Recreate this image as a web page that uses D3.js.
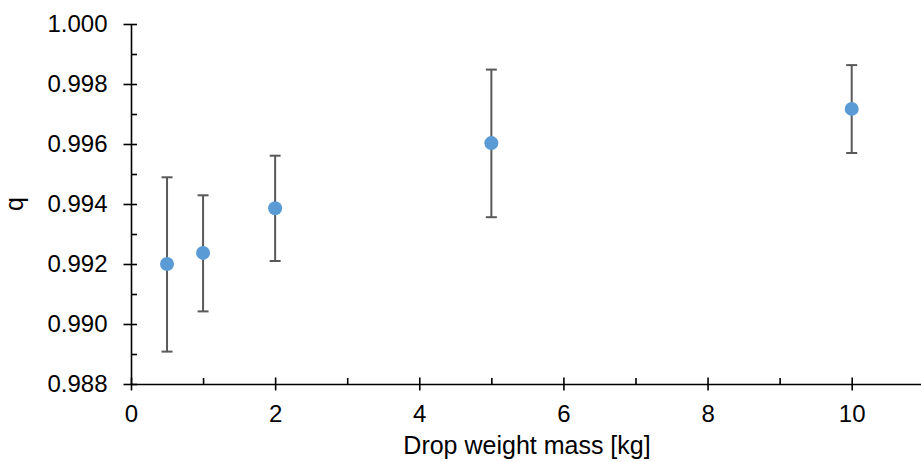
<!DOCTYPE html>
<html>
<head>
<meta charset="utf-8">
<script src="https://cdn.jsdelivr.net/npm/d3@7"></script>
<style>
  body { margin: 0; background: #fff; }
  svg { display: block; font-family: "Liberation Sans", Arial, sans-serif; }
  .domain { stroke: #000; stroke-width: 1.6px; }
  .tick line { stroke: #000; stroke-width: 1.6px; }
  .tick text { font-size: 24px; fill: #000; }
</style>
</head>
<body>
<svg id="chart" width="921" height="462"></svg>
<script>
// drop weight mass [kg] and the measured q with its error range
const mass = [0.5, 1, 2, 5, 10];
const qMean = [0.99200, 0.99237, 0.99386, 0.99603, 0.99717];
const qHigh = [0.99489, 0.99429, 0.99561, 0.99848, 0.99863];
const qLow = [0.98908, 0.99042, 0.99210, 0.99356, 0.99570];

const xMajor = [0, 2, 4, 6, 8, 10];
const xMinor = [1, 3, 5, 7, 9, 11];
const yMajor = [0.988, 0.990, 0.992, 0.994, 0.996, 0.998, 1.000];
const yMinor = [0.989, 0.991, 0.993, 0.995, 0.997, 0.999];

const svg = d3.select("#chart");
const margin = { left: 131, top: 24, bottom: 384 };

var x = d3.scaleLinear()
  .domain([0, 11])
  .range([margin.left, margin.left + 11 * 72.07]);
var y = d3.scaleLinear()
  .domain([0.988, 1.000])
  .range([margin.bottom, margin.top]);

// x axis: major ticks cross the line, minor ticks only point inward
const gx = svg.append("g")
  .attr("transform", "translate(0," + y(0.988) + ")")
  .call(d3.axisBottom(x).tickValues(xMajor).tickSize(6.5).tickSizeOuter(0).tickPadding(14).tickFormat(d3.format("d")));
gx.selectAll(".tick line").attr("y1", -6.5);

svg.append("g")
  .attr("transform", "translate(0," + y(0.988) + ")")
  .call(d3.axisBottom(x).tickValues(xMinor).tickSize(-6).tickFormat(""))
  .select(".domain").remove();

// y axis
const gy = svg.append("g")
  .attr("transform", "translate(" + x(0) + ",0)")
  .call(d3.axisLeft(y).tickValues(yMajor).tickSize(7.5).tickSizeOuter(0).tickPadding(16).tickFormat(d3.format(".3f")));
gy.selectAll(".tick line").attr("x1", 6);

svg.append("g")
  .attr("transform", "translate(" + x(0) + ",0)")
  .call(d3.axisLeft(y).tickValues(yMinor).tickSize(-6).tickFormat(""))
  .select(".domain").remove();

// axis titles
svg.append("text")
  .attr("x", 527)
  .attr("y", 454)
  .attr("text-anchor", "middle")
  .style("font-size", "25px")
  .text("Drop weight mass [kg]");

svg.append("text")
  .attr("transform", "translate(23," + ((margin.top + margin.bottom) / 2) + ") rotate(-90)")
  .attr("text-anchor", "middle")
  .style("font-size", "25px")
  .text("q");

// error bars
const bars = svg.append("g")
  .attr("stroke", "#595959")
  .attr("stroke-width", 2);

mass.forEach(function(m, i) {
  bars.append("line")
    .attr("x1", x(m)).attr("x2", x(m))
    .attr("y1", y(qLow[i])).attr("y2", y(qHigh[i]));
  bars.append("line")
    .attr("x1", x(m) - 5.5).attr("x2", x(m) + 5.5)
    .attr("y1", y(qLow[i])).attr("y2", y(qLow[i]));
  bars.append("line")
    .attr("x1", x(m) - 5.5).attr("x2", x(m) + 5.5)
    .attr("y1", y(qHigh[i])).attr("y2", y(qHigh[i]));
});

// points
svg.append("g").selectAll("circle")
  .data(mass)
  .enter().append("circle")
    .attr("cx", d => x(d))
    .attr("cy", (d, i) => y(qMean[i]))
    .attr("r", 7)
    .attr("fill", "#5B9BD5");
</script>
</body>
</html>
